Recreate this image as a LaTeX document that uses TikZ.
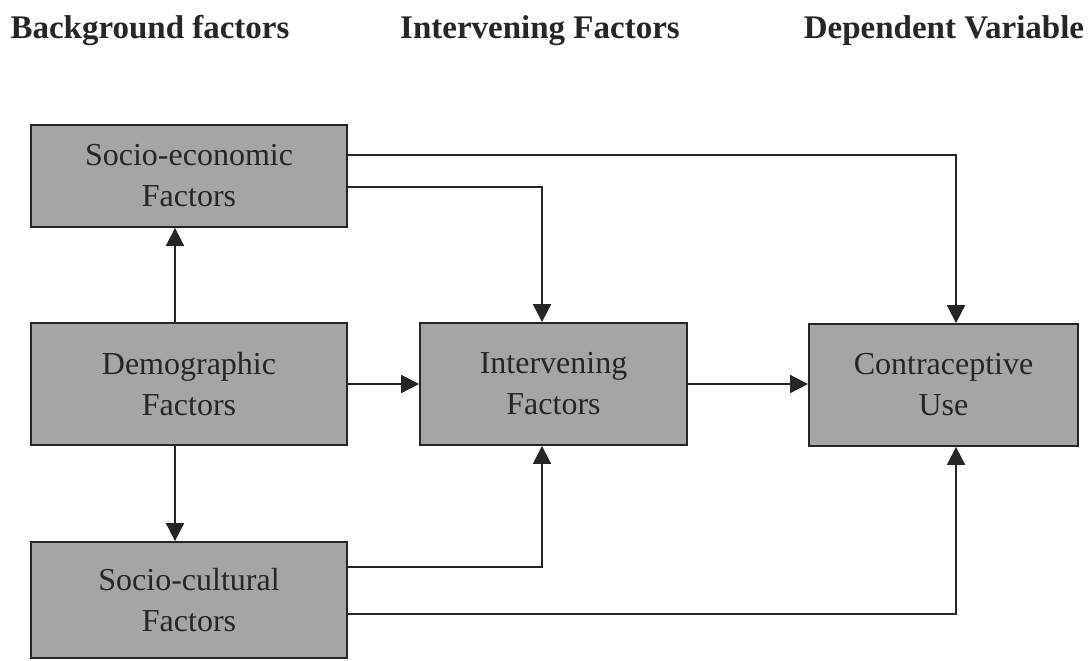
\documentclass[tikz,border=0pt]{standalone}
\usepackage{fontspec}
\setmainfont{Liberation Serif}
\usetikzlibrary{arrows.meta}
\definecolor{boxgray}{RGB}{165,165,165}

\begin{document}
\begin{tikzpicture}[x=0.5pt,y=-0.5pt,
  factor/.style={draw=black!85,line width=0.9pt,fill=boxgray,align=center,inner sep=0pt,
    font=\fontsize{16}{20.5}\selectfont,text=black!85},
  heading/.style={font=\fontsize{16.5}{18}\selectfont\bfseries,text=black!85},
  link/.style={-{Triangle[length=9pt,width=9pt]},line width=0.9pt,draw=black!85}]
\useasboundingbox (0,0) rectangle (1090,660);
\node (hback) at (150,31) [heading] {Background factors};
\node (hinterv) at (540,31) [heading] {Intervening Factors};
\node (hdep) at (944,31) [heading] {Dependent Variable};
\node (seco) at (189,176) [factor,minimum width=158pt,minimum height=51pt] {Socio-economic\\Factors};
\node (demo) at (189,384) [factor,minimum width=158pt,minimum height=61pt] {Demographic\\Factors};
\node (scult) at (189,600) [factor,minimum width=158pt,minimum height=58pt] {Socio-cultural\\Factors};
\node (interv) at (553.5,384) [factor,minimum width=133.5pt,minimum height=61pt] {Intervening\\Factors};
\node (contra) at (943.5,385) [factor,minimum width=134.5pt,minimum height=61pt] {Contraceptive\\Use};
\draw [link] ([xshift=-7pt]demo.north) -- ([xshift=-7pt]seco.south);
\draw [link] ([xshift=-7pt]demo.south) -- ([xshift=-7pt]scult.north);
\draw [link] (demo) -- (interv);
\draw [link] (interv.east) -- (interv.east -| contra.west);
\draw [link] ([yshift=10.5pt]seco.east) -| ([xshift=6.25pt]contra.north);
\draw [link] ([yshift=-5.5pt]seco.east) -| ([xshift=-5.75pt]interv.north);
\draw [link] ([yshift=16.5pt]scult.east) -| ([xshift=-5.75pt]interv.south);
\draw [link] ([yshift=-7pt]scult.east) -| ([xshift=6.25pt]contra.south);
\end{tikzpicture}
\end{document}
